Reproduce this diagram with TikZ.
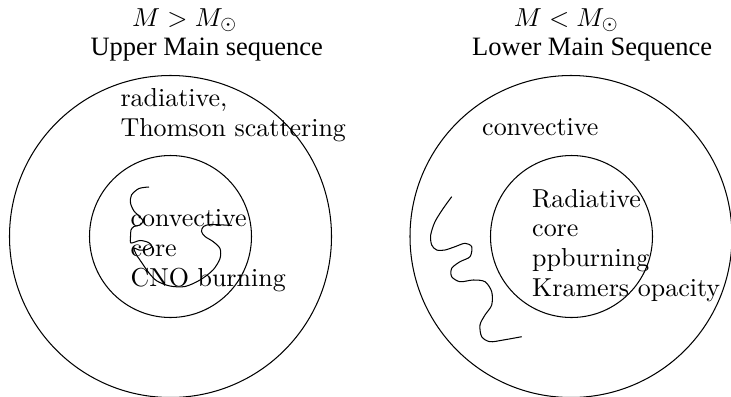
\documentclass[tikz,border=0pt]{standalone}
\usepackage{fontspec}
\newfontfamily\titlefont{Liberation Serif}
\usepackage{tikz}
\tikzset{
	inner sep=0pt,
	shell/.style={circle,draw=black,thin,minimum size=322*0.385pt},
	core/.style={circle,draw=black,thin,minimum size=162*0.385pt},
	mass/.style={anchor=base west},
	seq/.style={anchor=base west,font=\titlefont\fontsize{10.2}{12}\selectfont},
	zone/.style={anchor=base west,align=left,font=\fontsize{10}{11.4}\selectfont},
	flow/.style={thin}
}

\begin{document}
\begin{tikzpicture}[x=0.385pt,y=-0.385pt]
\useasboundingbox (0,0) rectangle (731,396);
\node[shell](Upper) at (170.5,236.5) {};
\node[core](UpperCore) at (170.5,236.5) {};
\node[shell](Lower) at (571,236.5) {};
\node[core](LowerCore) at (571.5,236.5) {};
\node[mass](UpperMass) at (131.7,26) {$M>M_\odot$};
\node[seq](UpperSeq) at (90,55) {Upper Main sequence};
\node[mass](LowerMass) at (513.3,26) {$M<M_\odot$};
\node[seq](LowerSeq) at (471.7,55) {Lower Main Sequence};
\node[zone](UpperEnv) at (120,136) {radiative,\\Thomson scattering};
\node[zone](UpperIn) at (130,286) {convective\\core\\CNO burning};
\node[zone](LowerEnv) at (481.7,135) {convective};
\node[zone](LowerIn) at (531.7,296) {Radiative\\core\\ppburning\\Kramers opacity};
\draw[flow] plot[smooth] coordinates {(149,187) (139,188.5) (131.5,195) (130.5,203) (134,211) (140,217) (143,221) (140,225) (134,226.5) (131,230) (130.5,237) (131,243) (140,240.5) (148.5,242.5) (152,246.5) (147,249.5) (139,250) (134,248) (136,254) (142,263) (149,273) (157,281) (170,286) (185,286.5) (200,280) (213,270) (220,258.5) (220,248.5) (213,241.5) (205,236.5) (201.5,231.5) (203.5,226.5) (211,224.5) (232,225.5)};
\draw[flow] plot[smooth] coordinates {(451.7,196.7) (443.3,208.3) (435,221.7) (430.7,235) (431.7,245) (436.7,250) (445,250) (455,246.7) (465,243.3) (471.7,246.7) (470,256.7) (460,261.7) (451.7,268.3) (451.7,276.7) (460,281.7) (473.3,280) (485,281.7) (491.7,291.7) (491.7,305) (485,315) (480,325) (481.7,336.7) (490,341.7) (503.3,340) (521.7,336.7)};
\end{tikzpicture}
\end{document}
